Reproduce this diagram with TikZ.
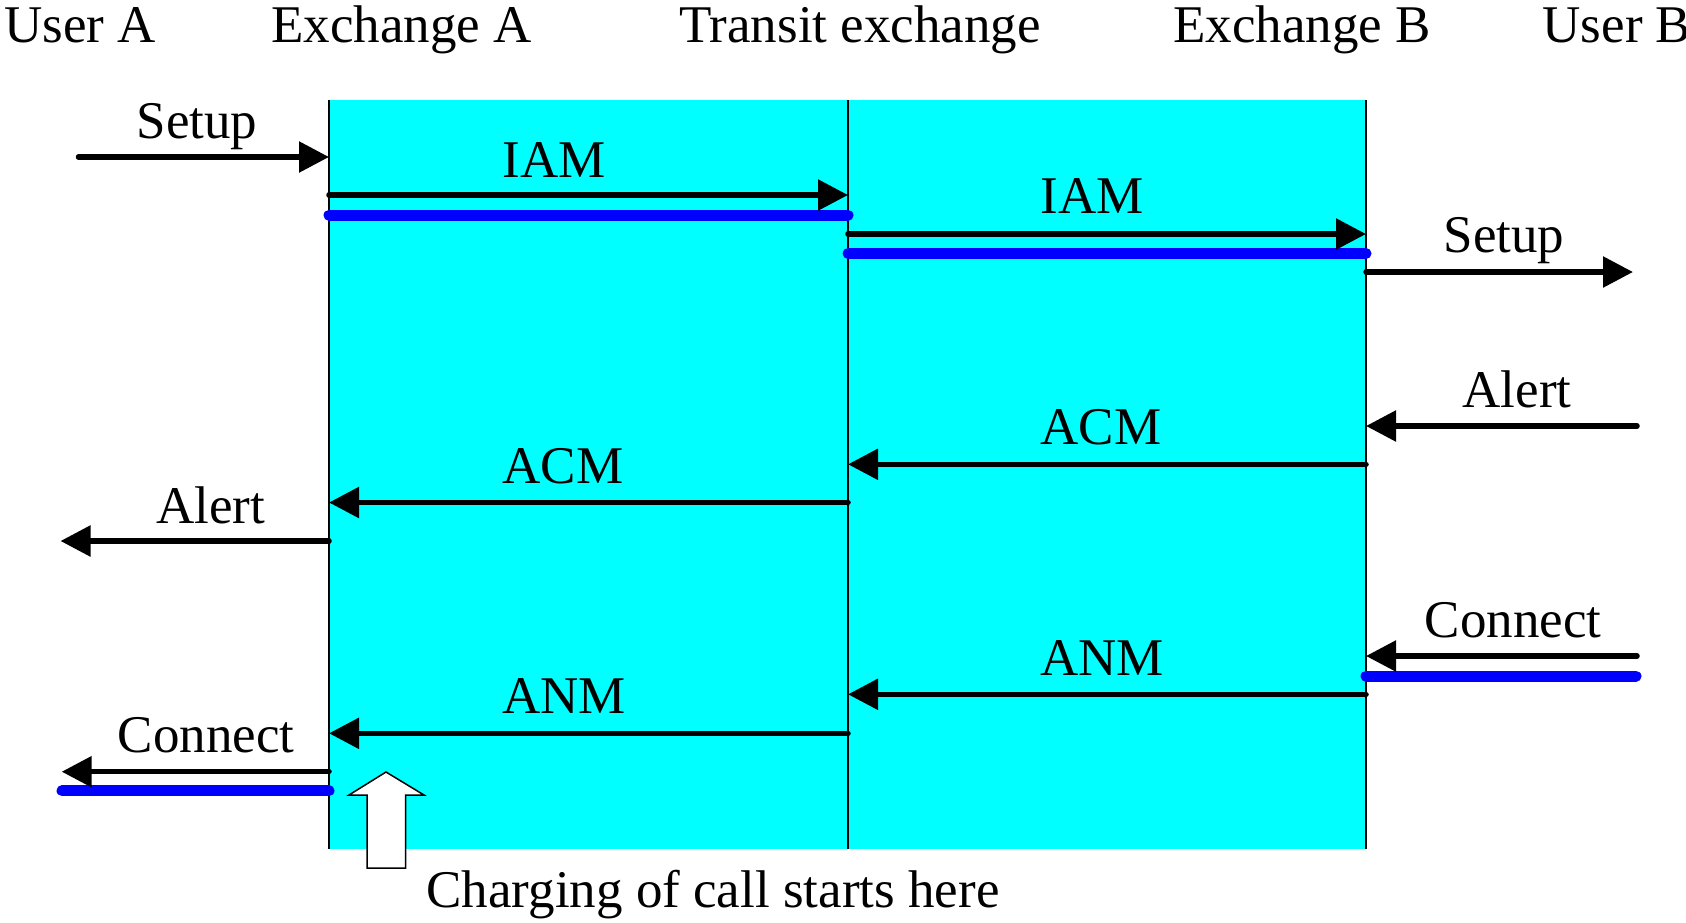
\documentclass[tikz,border=0pt]{standalone}
\usepackage{fontspec}
\setmainfont{Liberation Serif}
\usetikzlibrary{arrows.meta}
\definecolor{lane}{RGB}{0,255,255}
\definecolor{circuit}{RGB}{0,0,255}

\begin{document}
\begin{tikzpicture}[x=1pt,y=-1pt,
  lbl/.style={anchor=base,inner sep=0pt,font=\fontsize{53}{60}\selectfont},
  msg/.style={line width=5.5pt,line cap=round,-{Triangle[length=30pt,width=30pt]}},
  held/.style={line width=11pt,line cap=round,draw=circuit},
  life/.style={line width=1.5pt}]

\useasboundingbox (0,0) rectangle (1686,922);

% lifeline ends
\coordinate (exA-top) at (329,100);   \coordinate (exA-bot) at (329,849);
\coordinate (tr-top)  at (848,100);   \coordinate (tr-bot)  at (848,849);
\coordinate (exB-top) at (1366,100);  \coordinate (exB-bot) at (1366,849);

% shaded exchange area and lifelines
\fill[lane] (exA-top) rectangle (exB-bot);
\draw[life] (exA-top) -- (exA-bot);
\draw[life] (tr-top) -- (tr-bot);
\draw[life] (exB-top) -- (exB-bot);

% headings
\node[lbl] (hUA) at (80,42)    {User A};
\node[lbl] (hEA) at (401.5,42) {Exchange A};
\node[lbl] (hTr) at (860,42)   {Transit exchange};
\node[lbl] (hEB) at (1302,42)  {Exchange B};
\node[lbl] (hUB) at (1617,42)  {User B};

% message end points
\coordinate (s1a) at (78.5,157);  \coordinate (s1b) at (329,157);
\coordinate (i1a) at (329,195);   \coordinate (i1b) at (848,195);
\coordinate (c1a) at (329,215);   \coordinate (c1b) at (848,215);
\coordinate (i2a) at (848,234);   \coordinate (i2b) at (1366,234);
\coordinate (c2a) at (848,253.5); \coordinate (c2b) at (1366,253.5);
\coordinate (s2a) at (1366,272);  \coordinate (s2b) at (1633,272);
\coordinate (a1a) at (1637,426);  \coordinate (a1b) at (1366,426);
\coordinate (m2a) at (1366,464.3);\coordinate (m2b) at (848,464.3);
\coordinate (m1a) at (848,502.5); \coordinate (m1b) at (329,502.5);
\coordinate (a2a) at (329,541);   \coordinate (a2b) at (60.5,541);
\coordinate (k1a) at (1637,656);  \coordinate (k1b) at (1366,656);
\coordinate (c3a) at (1366,676);  \coordinate (c3b) at (1636,676);
\coordinate (n2a) at (1366,694.3);\coordinate (n2b) at (848,694.3);
\coordinate (n1a) at (848,733.3); \coordinate (n1b) at (329,733.3);
\coordinate (k2a) at (329,771.7); \coordinate (k2b) at (61.7,771.7);
\coordinate (c4a) at (62,790.7);  \coordinate (c4b) at (329,790.7);

% through-connected circuit segments
\draw[held] (c1a) -- (c1b);
\draw[held] (c2a) -- (c2b);
\draw[held] (c3a) -- (c3b);
\draw[held] (c4a) -- (c4b);

% signalling messages
\draw[msg] (s1a) -- (s1b);
\draw[msg] (i1a) -- (i1b);
\draw[msg] (i2a) -- (i2b);
\draw[msg] (s2a) -- (s2b);
\draw[msg] (a1a) -- (a1b);
\draw[msg] (m2a) -- (m2b);
\draw[msg] (m1a) -- (m1b);
\draw[msg] (a2a) -- (a2b);
\draw[msg] (k1a) -- (k1b);
\draw[msg] (n2a) -- (n2b);
\draw[msg] (n1a) -- (n1b);
\draw[msg] (k2a) -- (k2b);

% message labels
\node[lbl] (lS1) at (197,138)    {Setup};
\node[lbl] (lI1) at (554,177)    {IAM};
\node[lbl] (lI2) at (1092,213)   {IAM};
\node[lbl] (lS2) at (1504,252)   {Setup};
\node[lbl] (lA1) at (1517,407)   {Alert};
\node[lbl] (lM2) at (1101,444)   {ACM};
\node[lbl] (lM1) at (563,483)    {ACM};
\node[lbl] (lA2) at (210.5,523)  {Alert};
\node[lbl] (lK1) at (1513,637)   {Connect};
\node[lbl] (lN2) at (1102,675)   {ANM};
\node[lbl] (lN1) at (564,713)    {ANM};
\node[lbl] (lK2) at (206,752)    {Connect};

% charging marker
\draw[line width=1.5pt,fill=white,line join=miter]
  (386,772) -- (424,795) -- (405.5,795) -- (405.5,868) -- (367,868)
  -- (367,795) -- (349,795) -- cycle;
\node[lbl] (lCh) at (713,907) {Charging of call starts here};

\end{tikzpicture}
\end{document}
